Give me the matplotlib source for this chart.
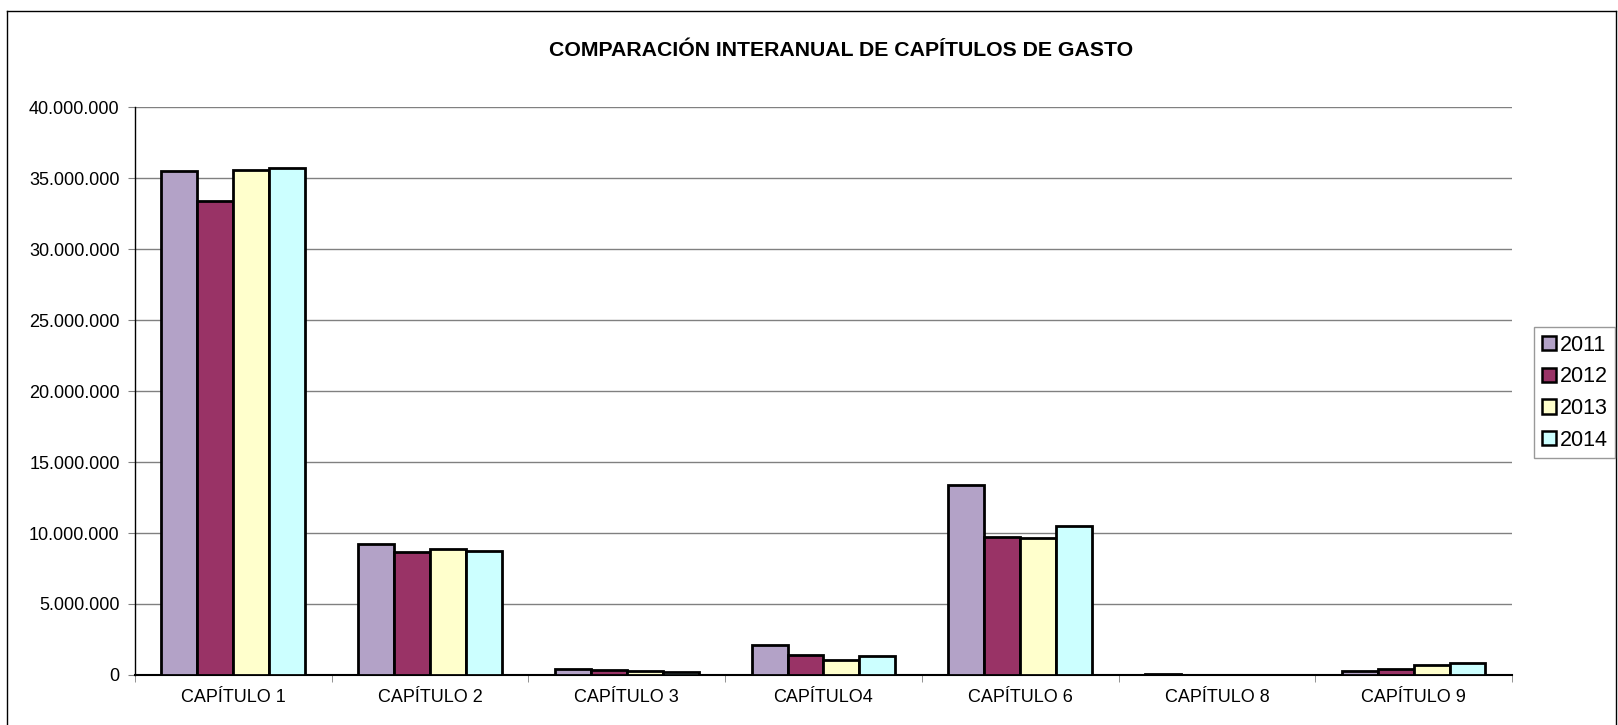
import numpy as np
import matplotlib
matplotlib.use("Agg")
import matplotlib.pyplot as plt
from matplotlib.ticker import FuncFormatter, FixedLocator
from matplotlib.lines import Line2D

plt.rcParams['font.family'] = ['Liberation Sans', 'DejaVu Sans']

# data
capitulos = ['CAPÍTULO 1', 'CAPÍTULO 2', 'CAPÍTULO 3', 'CAPÍTULO4',
             'CAPÍTULO 6', 'CAPÍTULO 8', 'CAPÍTULO 9']
years = ['2011', '2012', '2013', '2014']
gasto_2011 = [35540000, 9220000, 450000, 2110000, 13400000, 30000, 260000]
gasto_2012 = [33420000, 8640000, 330000, 1410000, 9700000, 0, 440000]
gasto_2013 = [35580000, 8900000, 300000, 1080000, 9620000, 0, 730000]
gasto_2014 = [35720000, 8750000, 230000, 1360000, 10490000, 0, 850000]
series = [gasto_2011, gasto_2012, gasto_2013, gasto_2014]
colors = ['#B3A2C7', '#993366', '#FFFFCC', '#CCFFFF']

fig = plt.figure(figsize=(16.18, 7.25), dpi=100)
ax = fig.add_axes([0.0834, 0.0691, 0.8511, 0.7829])

x = np.arange(len(capitulos))
w = 0.1825
for i, vals in enumerate(series):
    ax.bar(x + (i - 1.5) * w, vals, width=w, color=colors[i],
           edgecolor='black', linewidth=2.0, label=years[i], zorder=3)

ax.set_xlim(-0.5, len(capitulos) - 0.5)
ax.set_ylim(0, 40000000)
ax.yaxis.set_major_locator(FixedLocator(np.arange(0, 40000001, 5000000)))
ax.yaxis.set_major_formatter(FuncFormatter(lambda v, p: f'{int(v):,}'.replace(',', '.')))
ax.set_xticks(x)
ax.set_xticklabels(capitulos, fontsize=13)
ax.set_xticks(np.arange(-0.5, len(capitulos), 1), minor=True)
ax.tick_params(axis='x', which='major', length=0, pad=10)
ax.tick_params(axis='x', which='minor', length=5, color='#808080', direction='out')
ax.tick_params(axis='y', labelsize=13, length=5, color='#808080', pad=6)

ax.grid(axis='y', color='#808080', linewidth=1.0, zorder=0)
ax.set_axisbelow(True)
for s in ['top', 'right']:
    ax.spines[s].set_visible(False)
ax.spines['left'].set_linewidth(1.0)
ax.spines['bottom'].set_linewidth(1.5)

fig.text(0.52, 0.93, 'COMPARACIÓN INTERANUAL DE CAPÍTULOS DE GASTO',
         ha='center', va='center', fontsize=15.3, fontweight='bold')

handles, labels = ax.get_legend_handles_labels()
leg = fig.legend(handles, labels, loc='upper left',
                 bbox_to_anchor=(1534 / 1618, 1 - 327 / 725),
                 fontsize=15.5, frameon=True, fancybox=False,
                 handlelength=0.65, handleheight=0.65, handletextpad=0.2,
                 labelspacing=0.5, borderpad=0.35, borderaxespad=0)
leg.get_frame().set_edgecolor('#808080')
leg.get_frame().set_linewidth(1.0)
for h in leg.legend_handles:
    h.set_linewidth(1.8)

# outer chart border
fig.add_artist(Line2D([7 / 1618, 7 / 1618], [0, 1 - 11 / 725], color='black', lw=1.0))
fig.add_artist(Line2D([7 / 1618, 1616 / 1618], [1 - 11 / 725, 1 - 11 / 725], color='black', lw=1.0))
fig.add_artist(Line2D([1616 / 1618, 1616 / 1618], [0, 1 - 11 / 725], color='black', lw=1.0))

fig.savefig('out.png', dpi=100)
